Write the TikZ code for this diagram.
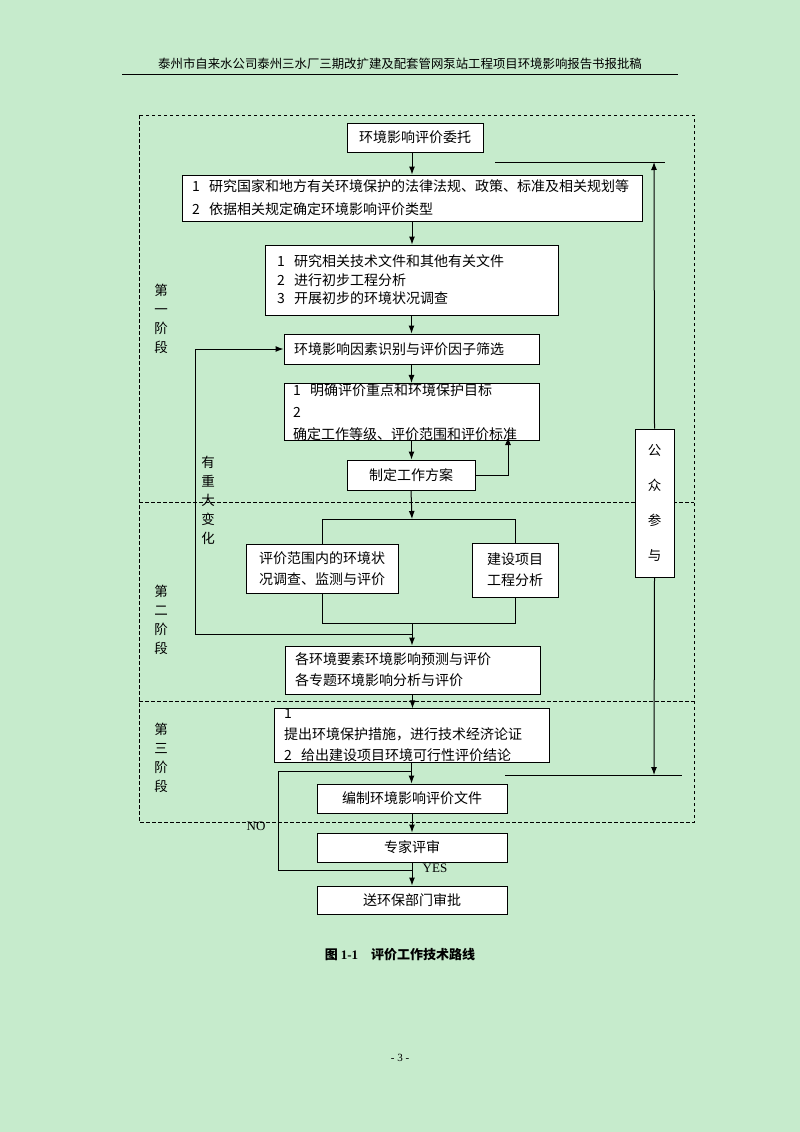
\documentclass[tikz,border=0pt]{standalone}
\usepackage{fontspec}
\setmainfont{Noto Sans CJK SC}
\newfontfamily\lat{Liberation Serif}
\usetikzlibrary{arrows.meta,calc}
\definecolor{bg}{RGB}{198,235,204}
\begin{document}
\begin{tikzpicture}[x=1pt,y=-1pt,
  box/.style={draw,line width=1pt,fill=white,font=\fontsize{14}{21}\selectfont,align=center,inner sep=0pt},
  lbox/.style={box,align=left,inner ysep=0pt},
  arr/.style={line width=1pt,-{Latex[length=8pt,width=6pt]}},
  ln/.style={line width=1pt},
  dsh/.style={line width=1pt,dash pattern=on 3.5pt off 2.5pt},
  lab/.style={font=\fontsize{13.5}{19}\selectfont,align=center}]
\fill[bg] (0,0) rectangle (800,1132);
\useasboundingbox (0,0) rectangle (800,1132);
\node[font=\fontsize{12.4}{14}\selectfont] (hdr) at (400,64) {泰州市自来水公司泰州三水厂三期改扩建及配套管网泵站工程项目环境影响报告书报批稿};
\draw (122,74) -- (678,74);
\draw[dsh] (139,115) rectangle (694,822);
\draw[dsh] (139,502) -- (694,502);
\draw[dsh] (139,701) -- (694,701);

\node[box,minimum width=136,minimum height=29] (b1) at (415,137.5) {环境影响评价委托};
\node[lbox,text width=440,inner xsep=10,minimum height=46,font=\fontsize{14}{23}\selectfont] (b2) at (412,198) {1\ \ 研究国家和地方有关环境保护的法律法规、政策、标准及相关规划等\\2\ \ 依据相关规定确定环境影响评价类型};
\node[lbox,text width=269,inner xsep=12,minimum height=70,font=\fontsize{14}{18.5}\selectfont] (b3) at (411.5,280) {1\ \ 研究相关技术文件和其他有关文件\\2\ \ 进行初步工程分析\\3\ \ 开展初步的环境状况调查};
\node[lbox,text width=235,inner xsep=10,minimum height=30] (b4) at (411.5,349) {环境影响因素识别与评价因子筛选};
\node[lbox,text width=237,inner xsep=9,minimum height=50,font=\fontsize{14}{22}\selectfont] (b5) at (411.5,412) {1\ \ 明确评价重点和环境保护目标\\2\ \ 确定工作等级、评价范围和评价标准};
\node[box,minimum width=128,minimum height=30] (b6) at (411,475) {制定工作方案};
\node[box,minimum width=152,minimum height=49] (b7) at (322,568.5) {评价范围内的环境状\\况调查、监测与评价};
\node[box,minimum width=86,minimum height=54] (b8) at (515,570) {建设项目\\工程分析};
\node[lbox,text width=235,inner xsep=10,minimum height=48] (b9) at (412.5,670) {各环境要素环境影响预测与评价\\各专题环境影响分析与评价};
\node[lbox,text width=255,inner xsep=10,minimum height=49] (b10) at (411.5,735.5) {1\ \ 提出环境保护措施，进行技术经济论证\\2\ \ 给出建设项目环境可行性评价结论};
\node[box,minimum width=190,minimum height=29] (b11) at (412,798.5) {编制环境影响评价文件};
\node[box,minimum width=190,minimum height=29] (b12) at (412,847.5) {专家评审};
\node[box,minimum width=190,minimum height=28] (b13) at (412,900) {送环保部门审批};
\node[box,minimum width=39,minimum height=148,align=center,font=\fontsize{13.5}{35}\selectfont] (pub) at (654.5,503) {公\\众\\参\\与};

\node[lab] (s1) at (161,319) {第\\一\\阶\\段};
\node[lab] (s2) at (161,620) {第\\二\\阶\\段};
\node[lab] (s3) at (161,758) {第\\三\\阶\\段};
\node[lab] (chg) at (208,500) {有\\重\\大\\变\\化};
\node[font=\lat\fontsize{13}{14}\selectfont] (no) at (256,826) {NO};
\node[font=\lat\fontsize{13}{14}\selectfont] (yes) at (435,868) {YES};
\node[font=\bfseries\fontsize{13}{15}\selectfont] (cap) at (400,955) {图 {\lat\bfseries 1-1}\quad 评价工作技术路线};
\node[font=\lat\fontsize{11}{12}\selectfont] (pg) at (400,1058) {- 3 -};

\coordinate (j1) at (412,519);
\coordinate (j2) at (412,623);
\coordinate (fb) at (412,634);
\coordinate (lp) at (195,634);
\coordinate (tp) at (654,162);
\coordinate (bt) at (654,775);
\coordinate (c6) at (508,437);
\coordinate (nt) at (412,771);
\coordinate (nb) at (412,870);

\draw[arr] (b1.south -| j1) -- (j1 |- b2.north);
\draw[arr] (b2.south) -- (b2.south |- b3.north);
\draw[arr] (b3.south) -- (b3.south |- b4.north);
\draw[arr] (b4.south) -- (b4.south |- b5.north);
\draw[arr] (b5.south) -- (b5.south |- b6.north);
\draw[arr] (b6.east) -| (c6);
\draw[arr] (b6.south) -- (j1);
\draw[ln] (b7.north) -- (b7.north |- j1) -- (b8.north |- j1) -- (b8.north);
\draw[ln] (b7.south) -- (b7.south |- j2) -- (b8.south |- j2) -- (b8.south);
\draw[arr] (j2) -- (j2 |- b9.north);
\draw[arr] (fb) -- (lp) |- (b4.west);
\draw[arr] (b9.south) -- (b9.south |- b10.north);
\draw[arr] (b10.south) -- (b10.south |- b11.north);
\draw[arr] (b11.south) -- (b11.south |- b12.north);
\draw[arr] (b12.south) -- (b12.south |- b13.north);
\draw[ln] (nb) -- (278,870) -- (278,771) -- (nt);
\draw[arr] (pub.north) -- (tp);
\draw[ln] (495,162) -- (665,162);
\draw[arr] (pub.south) -- (bt);
\draw[ln] (505,775) -- (682,775);
\end{tikzpicture}
\end{document}
